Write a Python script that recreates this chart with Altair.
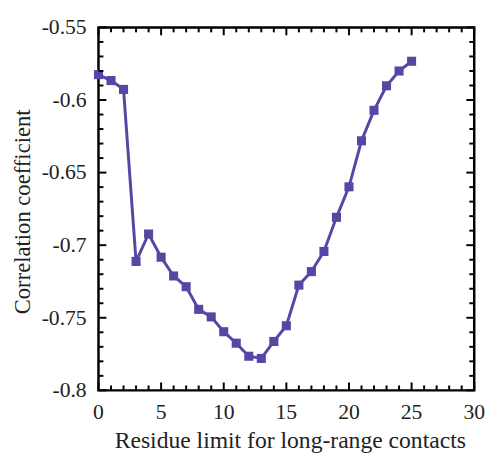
import altair as alt
import pandas as pd

residue_limit = list(range(0, 26))
correlation = [-0.5825, -0.5866, -0.5927, -0.7112, -0.6923, -0.7083, -0.7212, -0.7286,
               -0.7442, -0.7494, -0.7596, -0.7675, -0.7765, -0.7780, -0.7663, -0.7555,
               -0.7275, -0.7182, -0.7043, -0.6808, -0.6598, -0.6281, -0.6071, -0.5902,
               -0.5800, -0.5733]

x_major = [0, 5, 10, 15, 20, 25, 30]
x_labels = ["0", "5", "10", "15", "20", "25", "30"]
x_minor = [v for v in range(0, 31) if v % 5 != 0]
y_major = [-0.8, -0.75, -0.7, -0.65, -0.6, -0.55]
y_labels = ["-0.8", "-0.75", "-0.7", "-0.65", "-0.6", "-0.55"]
y_minor = [round(-0.8 + 0.01 * i, 2) for i in range(26) if i % 5 != 0]

X_T = "Residue limit for long-range contacts"
Y_T = "Correlation coefficient"

W, H = 382, 369
COLOR = "#5548A5"
FONT = "Liberation Serif"
TXT = "#222222"

df = pd.DataFrame({"x": residue_limit, "y": correlation})
xscale = alt.Scale(domain=[0, 30], nice=False, zero=False)
yscale = alt.Scale(domain=[-0.8, -0.55], nice=False, zero=False)

def XF(f):
    return alt.X(f, type="quantitative", scale=xscale, axis=None)

def YF(f):
    return alt.Y(f, type="quantitative", scale=yscale, axis=None)

base = alt.Chart(df)
line = base.mark_line(color=COLOR, strokeWidth=3).encode(x=XF("x"), y=YF("y"))
pts = base.mark_square(color=COLOR, size=85, opacity=1).encode(x=XF("x"), y=YF("y"))

def xticks(vals, length, top):
    d = alt.Chart(pd.DataFrame({"v": vals}))
    yy = (0, length) if top else (H, H - length)
    return d.mark_rule(color="black", strokeWidth=2).encode(
        x=XF("v"), y=alt.value(yy[0]), y2=alt.value(yy[1]))

def yticks(vals, length, right):
    d = alt.Chart(pd.DataFrame({"v": vals}))
    xx = (W, W - length) if right else (0, length)
    return d.mark_rule(color="black", strokeWidth=2).encode(
        y=YF("v"), x=alt.value(xx[0]), x2=alt.value(xx[1]))

ticks = [
    xticks(x_major, 8, False), xticks(x_minor, 5, False),
    xticks(x_major, 8, True), xticks(x_minor, 5, True),
    yticks(y_major, 8, False), yticks(y_minor, 5, False),
    yticks(y_major, 8, True), yticks(y_minor, 5, True),
]

xlab = alt.Chart(pd.DataFrame({"v": x_major, "t": x_labels})).mark_text(
    font=FONT, fontSize=22, color=TXT, baseline="middle", align="center").encode(
    x=XF("v"), y=alt.value(H + 22), text="t:N")
ylab = alt.Chart(pd.DataFrame({"v": y_major, "t": y_labels})).mark_text(
    font=FONT, fontSize=22, color=TXT, baseline="middle", align="right").encode(
    y=YF("v"), x=alt.value(-12), text="t:N")
xtitle = alt.Chart(pd.DataFrame({"t": [X_T]})).mark_text(
    font=FONT, fontSize=24, color=TXT, baseline="alphabetic", align="center").encode(
    x=alt.value(W / 2 + 4), y=alt.value(H + 59), text="t:N")
ytitle = alt.Chart(pd.DataFrame({"t": [Y_T]})).mark_text(
    font=FONT, fontSize=23, color=TXT, baseline="middle", align="center", angle=270).encode(
    x=alt.value(-77), y=alt.value(H / 2 + 3), text="t:N")

chart = alt.layer(line, pts, *ticks, xlab, ylab, xtitle, ytitle).properties(
    width=W, height=H,
    background="white",
    autosize=alt.AutoSizeParams(type="none"),
    padding={"left": 92, "top": 16, "right": 13, "bottom": 64},
).configure_view(stroke="black", strokeWidth=2.5)

chart.save("out.html", embed_options={"renderer": "svg", "actions": False})
